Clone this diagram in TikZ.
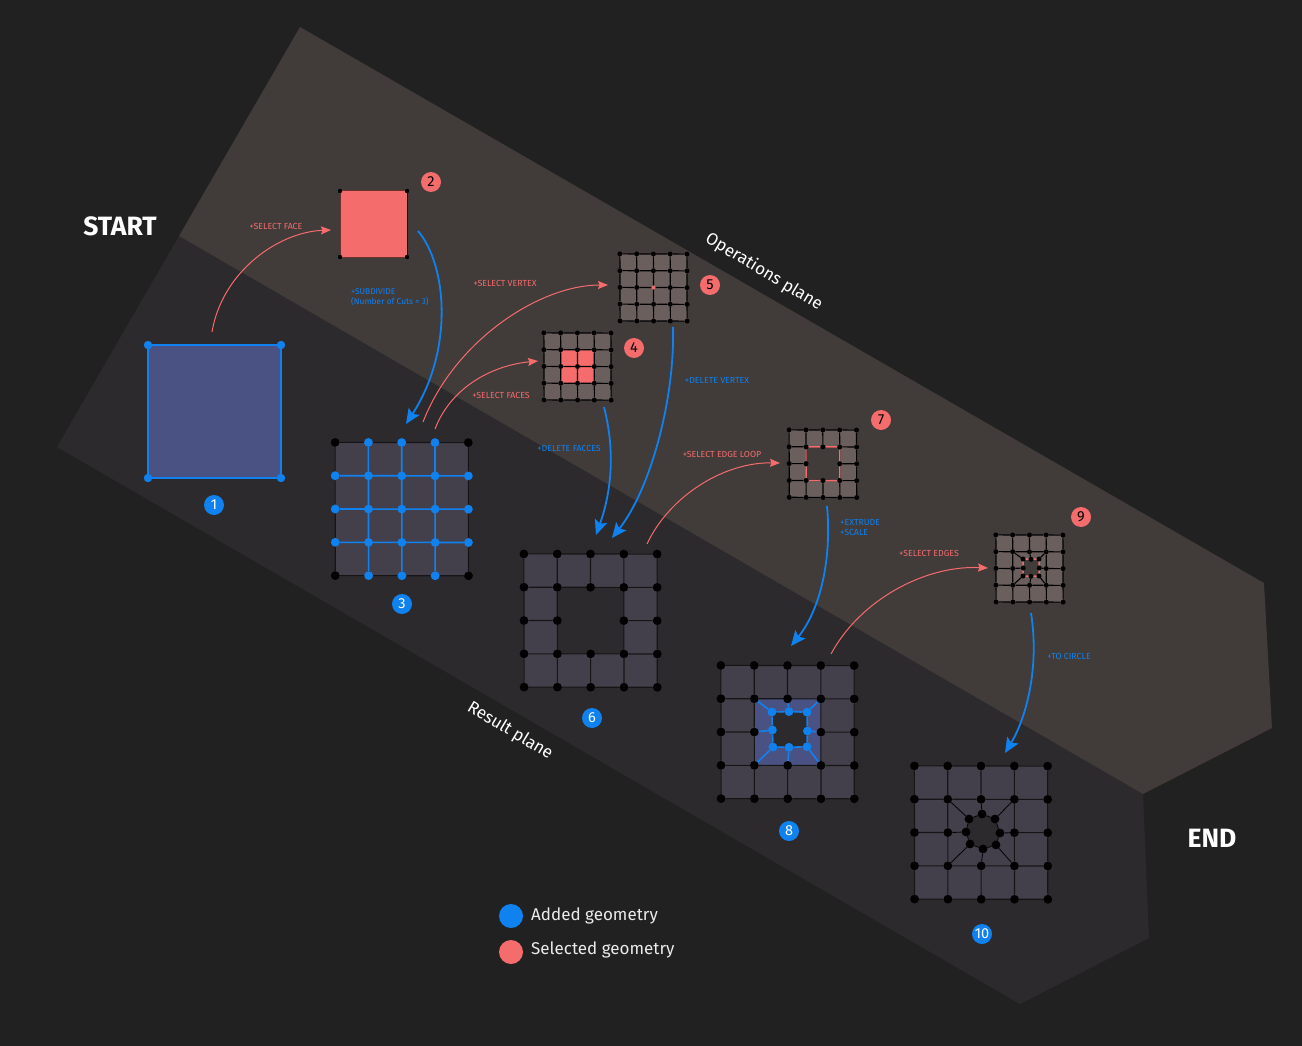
\documentclass[tikz,border=0pt]{standalone}
\usepackage{fontspec}
\setmainfont{Fira Sans}
\usetikzlibrary{arrows.meta}
\definecolor{bgc}{HTML}{212121}
\definecolor{opsc}{HTML}{413B3A}
\definecolor{resc}{HTML}{2C2A2C}
\definecolor{facec}{HTML}{43404B}
\definecolor{opfacec}{HTML}{6B5F5E}
\definecolor{selc}{HTML}{F56C6D}
\definecolor{bluec}{HTML}{0F82F0}
\definecolor{bluefc}{HTML}{4A5284}
\pgfdeclarelayer{planes}
\pgfdeclarelayer{faces}
\pgfsetlayers{planes,faces,main}
\tikzset{
  dotbig/.style={circle,fill=black,draw=none,inner sep=0pt,minimum size=8.8pt},
  dotsmall/.style={circle,fill=black,draw=none,inner sep=0pt,minimum size=5pt},
  dotblue/.style={circle,fill=bluec,draw=none,inner sep=0pt,minimum size=8.8pt},
  dotsel/.style={circle,fill=selc,draw=none,inner sep=0pt,minimum size=4pt},
  reslines/.style={draw=black!50!resc,line width=1.1pt},
  oplines/.style={draw=black,line width=1.15pt},
  bluelines/.style={draw=bluec,line width=1.6pt},
  sellines/.style={draw=selc,line width=1.4pt},
  blackthin/.style={draw=black!85!resc,line width=.9pt},
  flowblue/.style={draw=bluec,line width=1.8pt,-{Stealth[length=15pt,width=13pt,inset=3pt]}},
  flowsel/.style={draw=selc,line width=1pt,-{Stealth[length=10pt,width=8pt,inset=1.5pt]}},
  lblblue/.style={text=bluec,font=\fontsize{8.8}{10}\selectfont,inner sep=0pt,align=left},
  lblsel/.style={text=selc,font=\fontsize{8.8}{10}\selectfont,inner sep=0pt,align=left},
  badgeblue/.style={circle,fill=bluec,text=white,inner sep=0pt,minimum size=20pt,font=\fontsize{14.5}{14.5}\selectfont},
  badgesel/.style={circle,fill=selc,text=black,inner sep=0pt,minimum size=20pt,font=\fontsize{14.5}{14.5}\selectfont},
  planelbl/.style={text=white,rotate=-31,inner sep=0pt,font=\fontsize{17}{17}\selectfont},
  bigword/.style={text=white,inner sep=0pt,font=\fontsize{26.5}{26.5}\selectfont\bfseries},
  legendtxt/.style={text=white!92!black,anchor=west,inner sep=0pt,font=\fontsize{17}{17}\selectfont},
  legenddot/.style={circle,inner sep=0pt,minimum size=24pt},
}
% name,x,y,cell,corner style,other style,skip centre
\newcommand\meshnodes[7]{%
  \foreach \i in {0,...,4}{\foreach \j in {0,...,4}{%
    \pgfmathtruncatemacro\corner{((\i==0)||(\i==4))&&((\j==0)||(\j==4))}%
    \pgfmathtruncatemacro\ctr{(#7==1)&&(\i==2)&&(\j==2)}%
    \ifnum\ctr=0
      \ifnum\corner=1
        \node[#5] (#1-\i-\j) at ({#2+\i*#4+(\j-2)*0.05},{#3+\j*#4+(\i-2)*0.05}) {};
      \else
        \node[#6] (#1-\i-\j) at ({#2+\i*#4+(\j-2)*0.05},{#3+\j*#4+(\i-2)*0.05}) {};
      \fi
    \fi
  }}}
% name,style,skip centre
\newcommand\meshlines[3]{%
  \foreach \a in {0,...,4}{\foreach \b in {0,...,3}{%
    \pgfmathtruncatemacro\n{\b+1}%
    \pgfmathtruncatemacro\sk{(#3==1)&&(\a==2)&&((\b==1)||(\b==2))}%
    \ifnum\sk=0
      \draw[#2] (#1-\a-\b) -- (#1-\a-\n);
      \draw[#2] (#1-\b-\a) -- (#1-\n-\a);
    \fi
  }}}
% x,y,cell,fill,hole
\newcommand\meshfaces[5]{%
  \begin{pgfonlayer}{faces}
  \foreach \i in {0,...,3}{\foreach \j in {0,...,3}{%
    \pgfmathtruncatemacro\sk{(#5==1)&&((\i==1)||(\i==2))&&((\j==1)||(\j==2))}%
    \ifnum\sk=0
      \fill[#4] ({#1+\i*#3},{#2+\j*#3}) rectangle ({#1+(\i+1)*#3},{#2+(\j+1)*#3});
    \fi
  }}
  \end{pgfonlayer}}
% name,spoke style,loop style
\newcommand\holeedges[3]{%
  \foreach \p/\q in {1-1/tl,2-1/t,3-1/tr,1-2/l,3-2/r,1-3/bl,2-3/b,3-3/br}{%
    \draw[#2] (#1-\p) -- (#1-\q);}
  \foreach \p/\q in {tl/t,t/tr,tr/r,r/br,br/b,b/bl,bl/l,l/tl}{%
    \draw[#3] (#1-\p) -- (#1-\q);}}
\begin{document}
\begin{tikzpicture}[x=1pt,y=-1pt]
\useasboundingbox (0,0) rectangle (1302,1046);
\begin{pgfonlayer}{planes}
\fill[bgc] (0,0) rectangle (1302,1046);
\fill[resc] (179,236) -- (1143,794) -- (1149,938) -- (1020,1004) -- (57,447) -- cycle;
\fill[opsc] (300,27) -- (1264,583) -- (1272,728) -- (1143,794) -- (179,236) -- cycle;
\end{pgfonlayer}

% 1
\node[circle,fill=bluec,inner sep=0pt,minimum size=8.4pt] (g1a) at (148,345) {};
\node[circle,fill=bluec,inner sep=0pt,minimum size=8.4pt] (g1b) at (281,345) {};
\node[circle,fill=bluec,inner sep=0pt,minimum size=8.4pt] (g1c) at (281,478) {};
\node[circle,fill=bluec,inner sep=0pt,minimum size=8.4pt] (g1d) at (148,478) {};
\begin{pgfonlayer}{faces}
\fill[bluefc] (g1a.center) -- (g1b.center) -- (g1c.center) -- (g1d.center) -- cycle;
\end{pgfonlayer}
\draw[bluelines] (g1a) -- (g1b);\draw[bluelines] (g1b) -- (g1c);\draw[bluelines] (g1c) -- (g1d);\draw[bluelines] (g1d) -- (g1a);

% 2
\node[dotsmall,minimum size=4.4pt] (g2a) at (340,191) {};
\node[dotsmall,minimum size=4.4pt] (g2b) at (407,191) {};
\node[dotsmall,minimum size=4.4pt] (g2c) at (407,257) {};
\node[dotsmall,minimum size=4.4pt] (g2d) at (340,257) {};
\begin{pgfonlayer}{faces}
\fill[selc] (g2a.center) -- (g2b.center) -- (g2c.center) -- (g2d.center) -- cycle;
\end{pgfonlayer}
\draw[draw=selc!45!black,line width=1pt] (g2a) -- (g2b);\draw[draw=black,line width=1pt] (g2b) -- (g2c);\draw[draw=selc!45!black,line width=1pt] (g2c) -- (g2d);\draw[draw=selc!45!black,line width=1pt] (g2d) -- (g2a);

% 3
\meshfaces{335.2}{442.5}{33.3}{facec}{0}
\meshnodes{g3}{335.2}{442.5}{33.3}{dotbig}{dotblue}{0}
\foreach \k in {0,1,2,3}{\pgfmathtruncatemacro\m{\k+1}
  \draw[reslines] (g3-\k-0) -- (g3-\m-0);\draw[reslines] (g3-\k-4) -- (g3-\m-4);
  \draw[reslines] (g3-0-\k) -- (g3-0-\m);\draw[reslines] (g3-4-\k) -- (g3-4-\m);}
\foreach \k in {1,2,3}{\draw[bluelines] (g3-\k-0) -- (g3-\k-4);\draw[bluelines] (g3-0-\k) -- (g3-4-\k);}

% 4
\meshfaces{544}{333}{16.75}{opfacec}{0}
\begin{pgfonlayer}{faces}
\fill[selc] (560.75,349.75) rectangle (594.25,383.25);
\end{pgfonlayer}
\meshnodes{g4}{544}{333}{16.75}{dotsmall}{dotsmall}{0}
\meshlines{g4}{oplines}{0}

% 5
\meshfaces{620}{254}{16.75}{opfacec}{0}
\meshnodes{g5}{620}{254}{16.75}{dotsmall}{dotsmall}{1}
\node[dotsel] (g5-2-2) at (653.5,287.5) {};
\meshlines{g5}{oplines}{1}
\draw[oplines] (g5-2-1) -- (g5-2-2);\draw[oplines] (g5-2-2) -- (g5-2-3);
\draw[oplines] (g5-1-2) -- (g5-2-2);\draw[oplines] (g5-2-2) -- (g5-3-2);

% 6
\meshfaces{524}{554}{33.3}{facec}{1}
\meshnodes{g6}{524}{554}{33.3}{dotbig}{dotbig}{1}
\meshlines{g6}{reslines}{1}

% 7
\meshfaces{789.2}{430}{16.85}{opfacec}{1}
\meshnodes{g7}{789.2}{430}{16.85}{dotsmall}{dotsmall}{1}
\meshlines{g7}{oplines}{1}
\draw[sellines] (g7-1-1) -- (g7-2-1);\draw[sellines] (g7-2-1) -- (g7-3-1);
\draw[sellines] (g7-3-1) -- (g7-3-2);\draw[sellines] (g7-3-2) -- (g7-3-3);
\draw[sellines] (g7-3-3) -- (g7-2-3);\draw[sellines] (g7-2-3) -- (g7-1-3);
\draw[sellines] (g7-1-3) -- (g7-1-2);\draw[sellines] (g7-1-2) -- (g7-1-1);

% 8
\meshfaces{721}{665.5}{33.3}{facec}{1}
\meshnodes{g8}{721}{665.5}{33.3}{dotbig}{dotbig}{1}
\meshlines{g8}{reslines}{1}
\foreach \n/\x/\y in {tl/772/712,t/789/711.6,tr/807/712.2,l/772.4/730,r/807.4/731,bl/773/747,b/789/747.3,br/807/746.7}{
  \node[dotblue] (g8-\n) at (\x,\y) {};}
\begin{pgfonlayer}{faces}
\fill[bluefc,even odd rule] (g8-1-1.center) -- (g8-3-1.center) -- (g8-3-3.center) -- (g8-1-3.center) -- cycle
  (g8-tl.center) -- (g8-tr.center) -- (g8-br.center) -- (g8-bl.center) -- cycle;
\end{pgfonlayer}
\holeedges{g8}{bluelines}{bluelines}

% 9
\meshfaces{996}{535}{16.75}{opfacec}{1}
\meshnodes{g9}{996}{535}{16.75}{dotsmall}{dotsmall}{1}
\meshlines{g9}{oplines}{1}
\foreach \n/\x/\y in {tl/1023/559,t/1031/559.3,tr/1039/559,l/1023.3/568,r/1039.3/568,bl/1023/576,b/1031/576.3,br/1039/576}{
  \node[dotsmall] (g9-\n) at (\x,\y) {};}
\begin{pgfonlayer}{faces}
\fill[opfacec,even odd rule] (g9-1-1.center) -- (g9-3-1.center) -- (g9-3-3.center) -- (g9-1-3.center) -- cycle
  (g9-tl.center) -- (g9-tr.center) -- (g9-br.center) -- (g9-bl.center) -- cycle;
\end{pgfonlayer}
\holeedges{g9}{oplines}{sellines}

% 10
\meshfaces{914.5}{766}{33.3}{facec}{1}
\meshnodes{g10}{914.5}{766}{33.3}{dotbig}{dotbig}{1}
\meshlines{g10}{reslines}{1}
\foreach \n/\x/\y in {tl/969/819,t/982/814,tr/995/819,l/966/832,r/1000/833,bl/970/844,b/983/849,br/996/845}{
  \node[dotbig] (g10-\n) at (\x,\y) {};}
\begin{pgfonlayer}{faces}
\fill[facec,even odd rule] (g10-1-1.center) -- (g10-3-1.center) -- (g10-3-3.center) -- (g10-1-3.center) -- cycle
  (g10-tl.center) -- (g10-t.center) -- (g10-tr.center) -- (g10-r.center) -- (g10-br.center) -- (g10-b.center) -- (g10-bl.center) -- (g10-l.center) -- cycle;
\end{pgfonlayer}
\holeedges{g10}{blackthin}{blackthin}

% connector ends
\coordinate (a1s) at (212,332); \coordinate (a1e) at (331,230);
\coordinate (a2s) at (418,231); \coordinate (a2e) at (406,424);
\coordinate (a3s) at (423,422); \coordinate (a3e) at (608,285);
\coordinate (a4s) at (435,429); \coordinate (a4e) at (538,361);
\coordinate (a5s) at (673,327); \coordinate (a5e) at (612,538);
\coordinate (a6s) at (604,407); \coordinate (a6e) at (596,535);
\coordinate (a7s) at (647,544); \coordinate (a7e) at (780,463);
\coordinate (a8s) at (827,506); \coordinate (a8e) at (791,646);
\coordinate (a9s) at (831,654); \coordinate (a9e) at (988,568);
\coordinate (a10s) at (1031,613); \coordinate (a10e) at (1005,753);

\draw[flowsel] (a1s) .. controls (222,272) and (278,232) .. (a1e);
\draw[flowblue] (a2s) .. controls (447,265) and (454,350) .. (a2e);
\draw[flowsel] (a3s) .. controls (455,340) and (540,285) .. (a3e);
\draw[flowsel] (a4s) .. controls (452,385) and (495,365) .. (a4e);
\draw[flowblue] (a5s) .. controls (675,400) and (650,490) .. (a5e);
\draw[flowblue] (a6s) .. controls (615,450) and (612,490) .. (a6e);
\draw[flowsel] (a7s) .. controls (670,495) and (725,462) .. (a7e);
\draw[flowblue] (a8s) .. controls (832,560) and (820,610) .. (a8e);
\draw[flowsel] (a9s) .. controls (860,600) and (925,565) .. (a9e);
\draw[flowblue] (a10s) .. controls (1040,670) and (1025,720) .. (a10e);

% labels
\node[lblsel] (t1) at (276,226) {+SELECT FACE};
\node[lblblue,anchor=west,font=\fontsize{8.4}{10}\selectfont] (t2) at (351,297) {+SUBDIVIDE\\(Number of Cuts = 3)};
\node[lblsel] (t3) at (505,283) {+SELECT VERTEX};
\node[lblsel] (t4) at (501,395) {+SELECT FACES};
\node[lblblue] (t5) at (569,448) {+DELETE FACCES};
\node[lblblue] (t6) at (717,380) {+DELETE VERTEX};
\node[lblsel] (t7) at (722,454) {+SELECT EDGE LOOP};
\node[lblblue,anchor=west] (t8) at (840,528) {+EXTRUDE\\+SCALE};
\node[lblsel] (t9) at (929,553) {+SELECT EDGES};
\node[lblblue] (t10) at (1069,656) {+TO CIRCLE};

% badges
\node[badgeblue] (b1) at (214,505) {1};
\node[badgesel] (b2) at (431,182) {2};
\node[badgeblue] (b3) at (402,604) {3};
\node[badgesel] (b4) at (634,348) {4};
\node[badgesel] (b5) at (710,285) {5};
\node[badgeblue] (b6) at (592,718) {6};
\node[badgesel] (b7) at (881,420) {7};
\node[badgeblue] (b8) at (789,831) {8};
\node[badgesel] (b9) at (1081,517) {9};
\node[badgeblue] (b10) at (982,934) {10};

% plane and end labels
\node[planelbl] (pl1) at (764,272) {Operations plane};
\node[planelbl] (pl2) at (510,731) {Result plane};
\node[bigword] (st) at (120,226) {START};
\node[bigword] (en) at (1212,838) {END};

% legend
\node[legenddot,fill=bluec] (l1) at (511,916) {};
\node[legenddot,fill=selc] (l2) at (511,952) {};
\node[legendtxt] (l1t) at (531,916) {Added geometry};
\node[legendtxt] (l2t) at (531,950) {Selected geometry};
\end{tikzpicture}
\end{document}
